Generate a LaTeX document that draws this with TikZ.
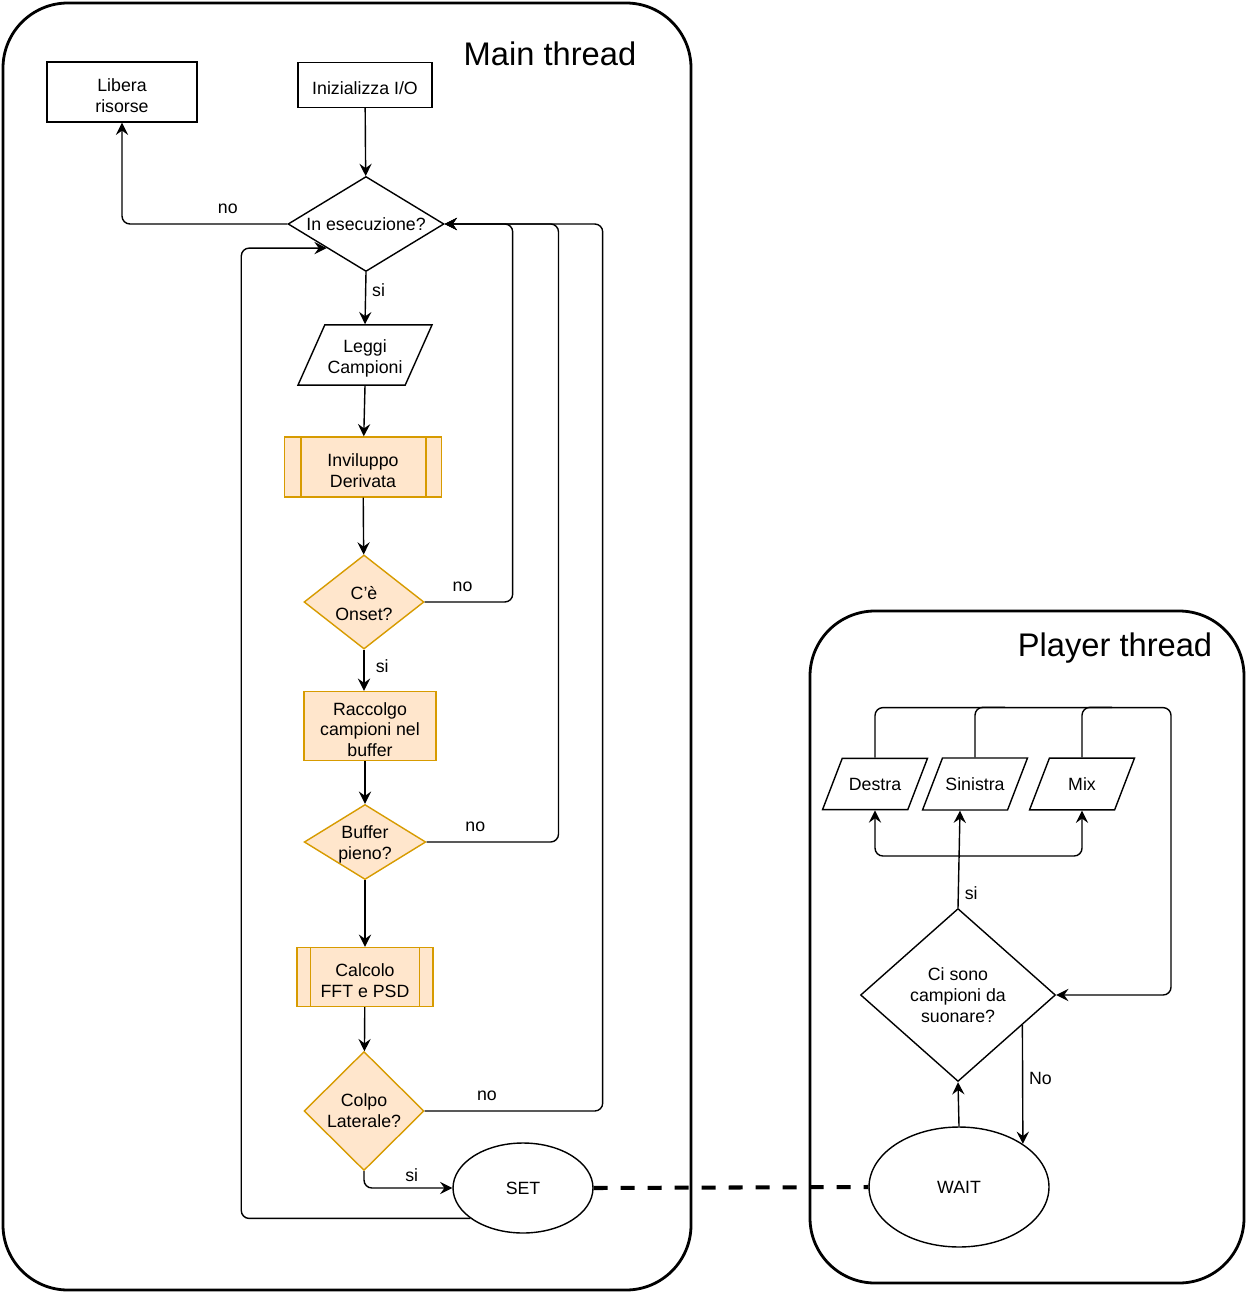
\documentclass[tikz,border=0pt]{standalone}
\usepackage{fontspec}
\setmainfont{Liberation Sans}
\usetikzlibrary{shapes.geometric,arrows.meta}
\definecolor{orfill}{HTML}{FFE6CC}
\definecolor{ordraw}{HTML}{D79B00}
\newcommand{\tstrut}{\rule{0pt}{11.4pt}}

\begin{document}
\begin{tikzpicture}[x=0.02cm,y=-0.02cm,font=\fontsize{10.1}{11.9}\selectfont]
\tikzstyle{flow}=[line width=0.8pt,-{Stealth[length=7pt,width=7pt,inset=2.5pt]},rounded corners=4.5pt]
\tikzstyle{plain}=[line width=0.8pt,rounded corners=4.5pt]
\tikzstyle{lbl}=[above,yshift=2pt]
\tikzstyle{proc}=[draw,line width=0.8pt,align=center,inner sep=2pt]
\tikzstyle{orproc}=[proc,draw=ordraw,fill=orfill]
\tikzstyle{cond}=[diamond,draw,line width=0.8pt,align=center,inner sep=0pt]
\tikzstyle{orcond}=[cond,draw=ordraw,fill=orfill]
\tikzstyle{io}=[trapezium,trapezium stretches body,draw,line width=0.8pt,align=center,inner xsep=0pt]
\tikzstyle{state}=[ellipse,draw,line width=0.8pt]
\tikzstyle{thread}=[draw,line width=1.6pt,rounded corners=1.3cm]
\tikzstyle{title}=[font=\fontsize{18.6}{22}\selectfont]

\useasboundingbox (0,0) rectangle (1247,1293);

% thread boxes
\draw [thread] (3,3) rectangle (691,1290);
\draw [thread] (810,611) rectangle (1244,1283);
\node (mtitle) [title] at (550,54) {Main thread};
\node (ptitle) [title] at (1115,648) {Player thread};

% main thread
\node (libera) [proc,minimum width=3cm,minimum height=1.2cm] at (122,92) {\tstrut Libera\\risorse};
\node (init) [proc,minimum width=2.68cm,minimum height=0.9cm] at (365,85) {\tstrut Inizializza I/O};
\node (exec) [cond,minimum width=3.12cm,minimum height=1.9cm,aspect=1.64] at (366,224) {In esecuzione?};
\node (leggi) [io,trapezium left angle=66,trapezium right angle=114,minimum width=2.68cm,inner ysep=0.155cm] at (365,355) {\tstrut Leggi\\Campioni};
\node (inv) [orproc,minimum width=3.14cm,minimum height=1.2cm] at (363,467) {\tstrut Inviluppo\\Derivata};
\node (onset) [orcond,minimum width=2.4cm,minimum height=1.8cm] at (364,602) {\rule{0pt}{9pt}C'è\\Onset?};
\node (racc) [orproc,minimum width=2.64cm,minimum height=1.36cm] at (370,726) {\tstrut Raccolgo\\campioni nel\\buffer};
\node (buf) [orcond,minimum width=2.4cm,minimum height=1.48cm,aspect=1.62] at (365,842) {\rule{0pt}{10pt}Buffer\\pieno?};
\node (fft) [orproc,minimum width=2.72cm,minimum height=1.18cm] at (365,977) {\tstrut Calcolo\\FFT e PSD};
\node (colpo) [orcond,minimum width=2.4cm,minimum height=2.38cm] at (364,1111) {Colpo\\Laterale?};
\node (set) [state,minimum width=2.8cm,minimum height=1.8cm] at (523,1188) {SET};

\draw [draw=ordraw,line width=0.8pt] ([xshift=0.34cm]inv.north west) -- ([xshift=0.34cm]inv.south west)
  ([xshift=-0.32cm]inv.north east) -- ([xshift=-0.32cm]inv.south east);
\draw [draw=ordraw,line width=0.8pt] ([xshift=0.28cm]fft.north west) -- ([xshift=0.28cm]fft.south west)
  ([xshift=-0.28cm]fft.north east) -- ([xshift=-0.28cm]fft.south east);

\draw [flow] (init) -- (exec);
\draw [flow] (exec.west) -| node[lbl,pos=0.18] {no} (libera.south);
\draw [flow] (exec.south) -- node[right,pos=0.35] {si} (leggi.center |- leggi.north);
\draw [flow] (leggi.center |- leggi.south) -- (inv);
\draw [flow] (inv) -- (onset);
\draw [flow] (onset.east) -- node[lbl,pos=0.43] {no} ++(88,0) |- (exec.east);
\draw [flow] (onset.south) -- node[right,pos=0.4,xshift=3pt] {si} (racc.north -| onset.south);
\draw [flow] (racc.south -| buf.north) -- (buf.north);
\draw [flow] (buf.east) -- node[lbl,pos=0.37] {no} ++(132,0) |- (exec.east);
\draw [flow] (buf) -- (fft);
\draw [flow] (fft) -- (colpo);
\draw [flow] (colpo.east) -- node[lbl,pos=0.35] {no} ++(178,0) |- (exec.east);
\draw [flow] (colpo.south) |- node[above,pos=0.77] {si} (set.west);
\draw [flow] (set.210) -- ++(-229,0) |- (exec.south west);

% player thread
\node (destra) [io,trapezium left angle=69,trapezium right angle=111,minimum width=2.1cm,inner ysep=0.39cm] at (875,784) {Destra};
\node (sini) [io,trapezium left angle=69,trapezium right angle=111,minimum width=2.1cm,inner ysep=0.39cm] at (975,784) {Sinistra};
\node (mix) [io,trapezium left angle=69,trapezium right angle=111,minimum width=2.1cm,inner ysep=0.39cm] at (1082,784) {Mix};
\node (ciso) [cond,minimum width=3.9cm,minimum height=3.46cm,aspect=1.13] at (958,995) {Ci sono\\campioni da\\suonare?};
\node (wait) [state,minimum width=3.6cm,minimum height=2.4cm] at (959,1187) {WAIT};
\coordinate (split) at (960,856);

\draw [flow] (wait.north) -- (ciso.south);
\draw [flow] (ciso.-25) -- node[right,pos=0.45] {No} (wait.34);
\draw [flow] (ciso.north) -- node[right,pos=0.15] {si} (split |- sini.south);
\draw [flow] (split) -| (destra.center |- destra.south);
\draw [flow] (split) -| (mix.center |- mix.south);
\draw [flow] (destra.center |- destra.north) -- ++(0,-50) -- ++(296,0) |- (ciso.east);
\draw [plain] (sini.center |- sini.north) -- ++(0,-50) -- ++(30,0);
\draw [plain] (mix.center |- mix.north) -- ++(0,-50) -- ++(30,0);

\draw [line width=2.3pt,dash pattern=on 0.28cm off 0.26cm] (set.east) -- (wait.west);

\end{tikzpicture}
\end{document}
